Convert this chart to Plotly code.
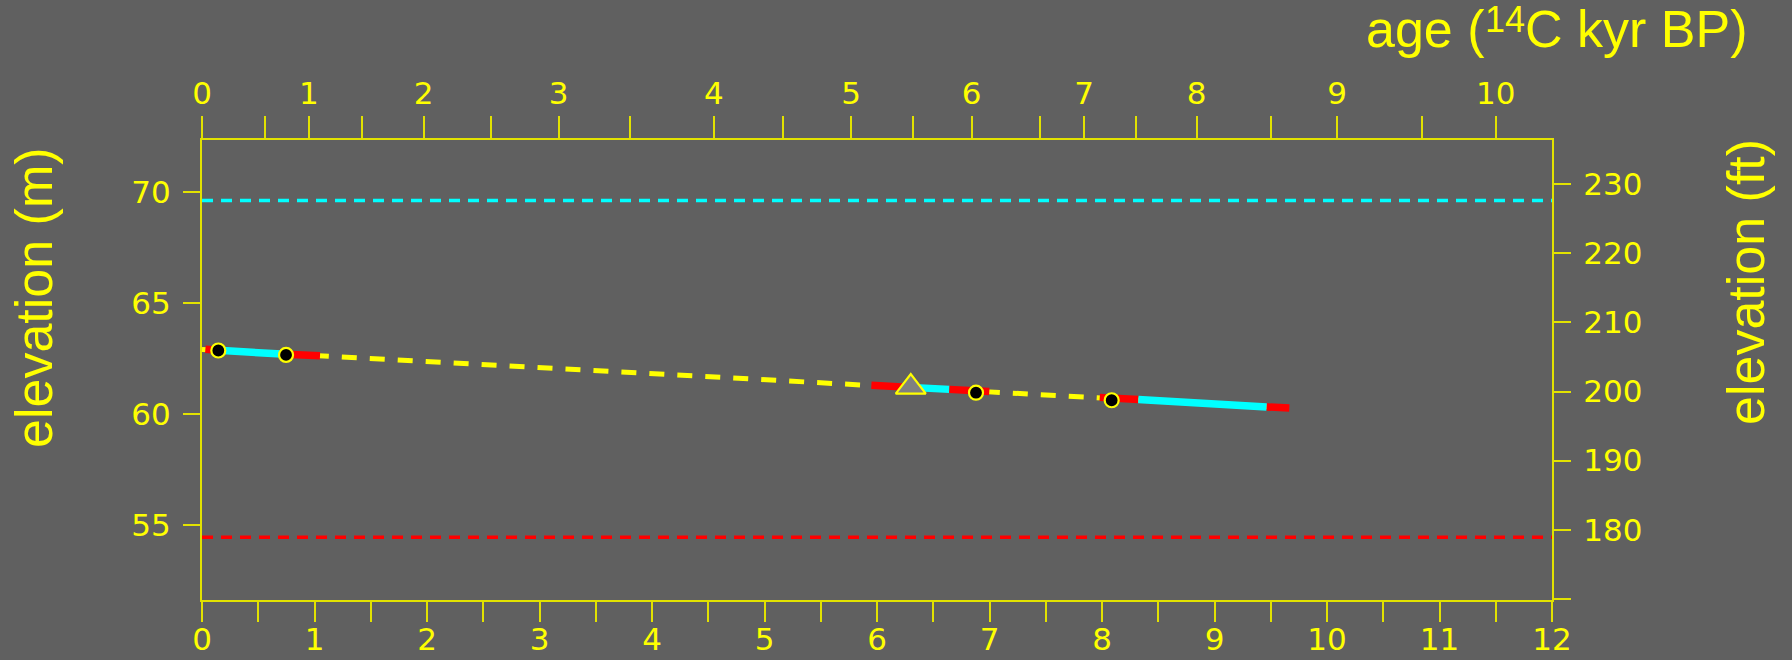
import plotly.graph_objects as go

# ---- data -------------------------------------------------------------
# calendar-age axis (kyr BP), bottom
cal_ticks = [i * 0.5 for i in range(25)]
cal_labels = [str(int(v)) if v == int(v) else "" for v in cal_ticks]

# radiocarbon-age axis (14C kyr BP), top: calendar position of each 14C tick
c14_tick_pos = [0.0, 0.56, 0.95, 1.42, 1.97, 2.57, 3.17, 3.80, 4.55, 5.16, 5.77,
                6.32, 6.84, 7.45, 7.84, 8.30, 8.84, 9.50, 10.09, 10.84, 11.50]
c14_tick_labels = ["0", "", "1", "", "2", "", "3", "", "4", "", "5",
                   "", "6", "", "7", "", "8", "", "9", "", "10"]

# elevation axes
m_ticks = [55, 60, 65, 70]
ft_ticks = [170, 180, 190, 200, 210, 220, 230]
ft_labels = ["", "180", "190", "200", "210", "220", "230"]

# reference levels (m)
upper_level_m = 69.6
lower_level_m = 54.45

# interpolated shoreline trend (cal kyr BP, m)
trend_age = [0.0, 9.665]
trend_elev = [62.90, 60.26]

# age-range segments along the trend
seg_age_from = [0.03, 0.145, 0.747, 5.95, 6.30, 6.643, 7.98, 8.323, 9.464]
seg_age_to = [0.145, 0.747, 1.049, 6.30, 6.643, 6.998, 8.323, 9.464, 9.665]
seg_elev_from = [62.91, 62.86, 62.68, 61.29, 61.19, 61.10, 60.74, 60.64, 60.31]
seg_elev_to = [62.86, 62.68, 62.61, 61.19, 61.10, 61.00, 60.64, 60.31, 60.26]
seg_color = ["#ff0000", "#00ffff", "#ff0000", "#ff0000", "#00ffff", "#ff0000",
             "#ff0000", "#00ffff", "#ff0000"]

# dated samples
sample_age = [0.145, 0.747, 6.88, 8.086]
sample_elev = [62.85, 62.65, 60.95, 60.61]
triangle_age = [6.30]
triangle_elev = [61.20]

# axis ranges
x_range = [0, 12]
m_range = [51.62, 72.325]
ft_range = [169.82, 236.41]

# ---- styling ----------------------------------------------------------
BG = "#606060"
YEL = "#ffff00"
LINE = "#e2e200"
TICKFONT = dict(family="DejaVu Sans", size=31, color=YEL)
TITLE_FAMILY = "Liberation Sans, Arial"
TITLEFONT = dict(family=TITLE_FAMILY, size=52, color=YEL)
SUPFONT = dict(family=TITLE_FAMILY, size=36, color=YEL)

# plot-area geometry in pixels (used to place the titles in paper units)
L, T, W, H = 202, 140, 1350, 460


def px_x(px):
    return (px - L) / W


def px_y(py):
    return 1 - (py - T) / H


fig = go.Figure()

fig.add_trace(go.Scatter(x=x_range, y=[upper_level_m] * 2, mode="lines",
                         line=dict(color="#00ffff", width=3.5, dash="11px,8px"),
                         hoverinfo="skip"))
fig.add_trace(go.Scatter(x=x_range, y=[lower_level_m] * 2, mode="lines",
                         line=dict(color="#ff0000", width=3.5, dash="11px,8px"),
                         hoverinfo="skip"))

fig.add_trace(go.Scatter(x=trend_age, y=trend_elev, mode="lines",
                         line=dict(color=YEL, width=5, dash="15px,13px"),
                         hoverinfo="skip"))

for a0, a1, e0, e1, c in zip(seg_age_from, seg_age_to, seg_elev_from, seg_elev_to, seg_color):
    fig.add_trace(go.Scatter(x=[a0, a1], y=[e0, e1], mode="lines",
                             line=dict(color=c, width=7.5), hoverinfo="skip"))

fig.add_trace(go.Scatter(x=triangle_age, y=triangle_elev, mode="markers",
                         marker=dict(symbol="triangle-up", size=26, color="#808080",
                                     line=dict(color=YEL, width=2.2))))
fig.add_trace(go.Scatter(x=sample_age, y=sample_elev, mode="markers",
                         marker=dict(symbol="circle", size=14, color="#000000",
                                     line=dict(color=YEL, width=2.2))))

# invisible traces to attach the secondary axes
fig.add_trace(go.Scatter(x=[None], y=[None], xaxis="x2", yaxis="y", showlegend=False))
fig.add_trace(go.Scatter(x=[None], y=[None], xaxis="x", yaxis="y2", showlegend=False))

common = dict(showgrid=False, zeroline=False, showline=True, linecolor=LINE,
              linewidth=2, ticks="outside", tickcolor=LINE, tickwidth=1.6,
              tickfont=TICKFONT, automargin=False)

# top title is set in three pieces so the superscript sits just above cap height
title_right = 1748
tail_w = 222.5
sup_w = 40.0

fig.update_layout(
    width=1792, height=660,
    margin=dict(l=L, r=1792 - L - W, t=T, b=660 - T - H),
    paper_bgcolor=BG, plot_bgcolor=BG,
    showlegend=False,
    xaxis=dict(range=x_range, tickmode="array", tickvals=cal_ticks,
               ticktext=cal_labels, ticklen=20, ticklabelstandoff=-9, **common),
    xaxis2=dict(range=x_range, overlaying="x", side="top", anchor="y",
                tickmode="array", tickvals=c14_tick_pos, ticktext=c14_tick_labels,
                ticklen=22, **common),
    yaxis=dict(range=m_range, tickmode="array", tickvals=m_ticks,
               ticktext=[str(v) for v in m_ticks], ticklen=17,
               ticklabelstandoff=6, **common),
    yaxis2=dict(range=ft_range, overlaying="y", side="right", anchor="x",
                tickmode="array", tickvals=ft_ticks, ticktext=ft_labels,
                ticklen=17, ticklabelstandoff=6, **common),
    annotations=[
        dict(text="C kyr BP)", xref="paper", yref="paper",
             x=px_x(title_right), y=px_y(29), borderpad=0,
             xanchor="right", yanchor="middle", showarrow=False, font=TITLEFONT),
        dict(text="14", xref="paper", yref="paper",
             x=px_x(title_right - tail_w), y=px_y(19.5), borderpad=0,
             xanchor="right", yanchor="middle", showarrow=False, font=SUPFONT),
        dict(text="age (", xref="paper", yref="paper",
             x=px_x(title_right - tail_w - sup_w), y=px_y(29), borderpad=0,
             xanchor="right", yanchor="middle", showarrow=False, font=TITLEFONT),
        dict(text="elevation (m)", xref="paper", yref="paper",
             x=px_x(34), y=px_y(298), textangle=-90,
             xanchor="center", yanchor="middle", showarrow=False, font=TITLEFONT),
        dict(text="elevation (ft)", xref="paper", yref="paper",
             x=px_x(1746), y=px_y(282), textangle=-90,
             xanchor="center", yanchor="middle", showarrow=False, font=TITLEFONT),
    ],
)

fig.write_html("out.html")
